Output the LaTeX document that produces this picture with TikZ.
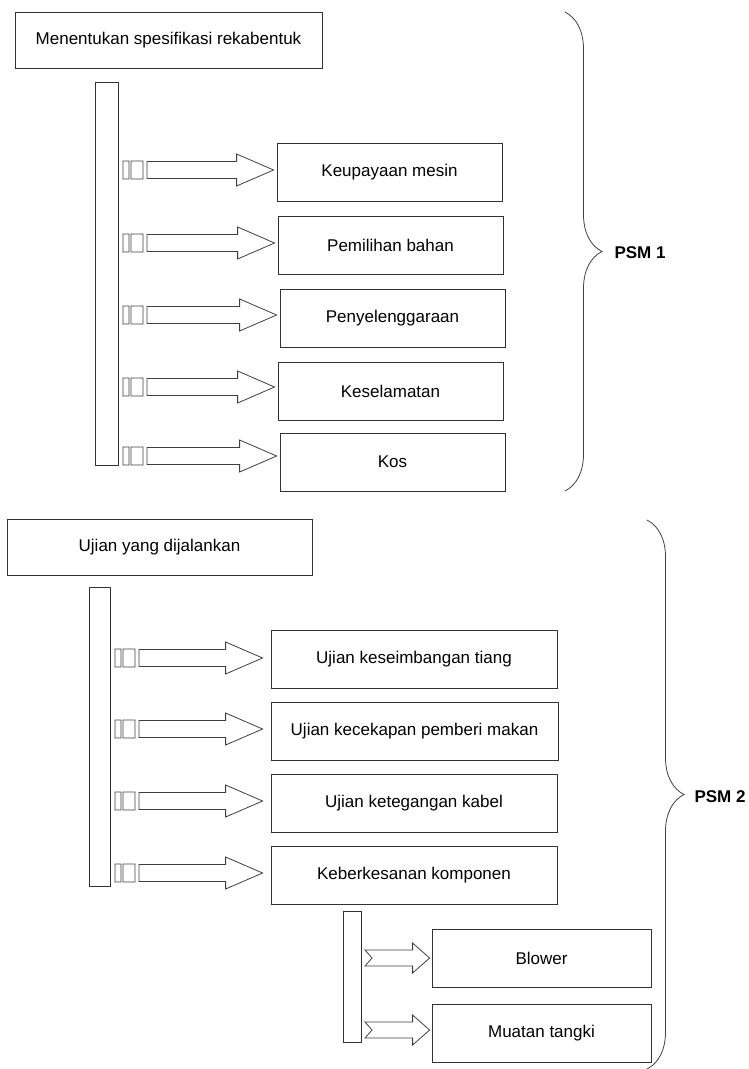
\documentclass[tikz,border=0pt]{standalone}
\usepackage{fontspec}
\setmainfont{Liberation Sans}
\usepackage{tikz}
\usetikzlibrary{calc, decorations.pathreplacing}

% block arrow from a point on a bar to a box
\newcommand{\blockarrow}[3]{%
  \draw[tube] let \p1=(#1), \p2=(#2.west) in
    (\x1+5pt,\y1-9pt) rectangle (\x1+11pt,\y1+9pt)
    (\x1+13pt,\y1-9pt) rectangle (\x1+25pt,\y1+9pt)
    (\x1+29pt,\y1-8.5pt) -- (\x2-#3pt-37pt,\y1-8.5pt) -- (\x2-#3pt-37pt,\y1-16pt)
    -- (\x2-#3pt,\y1) -- (\x2-#3pt-37pt,\y1+16pt) -- (\x2-#3pt-37pt,\y1+8.5pt)
    -- (\x1+29pt,\y1+8.5pt) -- cycle;}
% notched arrow for the sub-items
\newcommand{\notcharrow}[2]{%
  \draw[tube] let \p1=(#1), \p2=(#2.west) in
    (\x1+4pt,\y1+8pt) -- (\x2-19pt,\y1+8pt) -- (\x2-19pt,\y1+15pt)
    -- (\x2-2pt,\y1) -- (\x2-19pt,\y1-15pt) -- (\x2-19pt,\y1-8pt)
    -- (\x1+4pt,\y1-8pt) -- (\x1+11pt,\y1) -- cycle;}

\begin{document}
\begin{tikzpicture}[
    x=1pt, y=-1pt,
    every node/.style={font=\fontsize{17}{20}\selectfont},
    item/.style={draw=black!80, line width=0.8pt, minimum height=58pt, inner sep=2pt},
    bar/.style={draw=black!80, line width=0.8pt},
    tube/.style={draw=black!75, line width=0.8pt, fill=white},
    curly/.style={draw=black!75, line width=0.8pt, decorate,
                  decoration={brace, amplitude=37pt}},
    tag/.style={font=\fontsize{17}{20}\selectfont\bfseries},
]
    \useasboundingbox (0,0) rectangle (748,1069);

    % PSM 1
    \node[item, minimum width=307pt, minimum height=56pt] (spec) at (168.5,40) {Menentukan spesifikasi rekabentuk};
    \node[bar, minimum width=23pt, minimum height=383pt] (bar1) at (106.5,273.5) {};

    \node[item, minimum width=225pt] (k1) at (389.5,172) {Keupayaan mesin};
    \node[item, minimum width=225pt] (k2) at (390.5,245) {Pemilihan bahan};
    \node[item, minimum width=225pt] (k3) at (392.5,318) {Penyelenggaraan};
    \node[item, minimum width=225pt] (k4) at (390.5,391) {Keselamatan};
    \node[item, minimum width=225pt] (k5) at (392.5,462) {Kos};

    \coordinate (a1) at (118,170);
    \coordinate (a2) at (118,243);
    \coordinate (a3) at (118,315);
    \coordinate (a4) at (118,387);
    \coordinate (a5) at (118,456);
    \foreach \i in {1,...,5} {\blockarrow{a\i}{k\i}{3}}

    \draw[curly] (565,12) -- (565,491);
    \node[tag, anchor=west] (psm1) at (611,253) {PSM 1};

    % PSM 2
    \node[item, minimum width=305pt, minimum height=56pt] (ujian) at (159.5,547) {Ujian yang dijalankan};
    \node[bar, minimum width=21pt, minimum height=299pt] (bar2) at (99.5,736.5) {};

    \node[item, minimum width=286pt] (u1) at (414,659) {Ujian keseimbangan tiang};
    \node[item, minimum width=287pt] (u2) at (414.5,731.5) {Ujian kecekapan pemberi makan};
    \node[item, minimum width=286pt] (u3) at (414,803.5) {Ujian ketegangan kabel};
    \node[item, minimum width=286pt] (u4) at (414,875) {Keberkesanan komponen};

    \coordinate (b1) at (110,658);
    \coordinate (b2) at (110,729);
    \coordinate (b3) at (110,801);
    \coordinate (b4) at (110,873);
    \foreach \i in {1,...,4} {\blockarrow{b\i}{u\i}{8}}

    \node[bar, minimum width=18pt, minimum height=131pt] (bar3) at (352,976.5) {};
    \node[item, minimum width=219pt] (blower) at (541.5,958) {Blower};
    \node[item, minimum width=219pt] (tangki) at (541.5,1033) {Muatan tangki};

    \coordinate (c1) at (361,958);
    \coordinate (c2) at (361,1030);
    \notcharrow{c1}{blower}
    \notcharrow{c2}{tangki}

    \draw[curly] (647,520) -- (647,1069);
    \node[tag, anchor=west] (psm2) at (691,797) {PSM 2};
\end{tikzpicture}
\end{document}
